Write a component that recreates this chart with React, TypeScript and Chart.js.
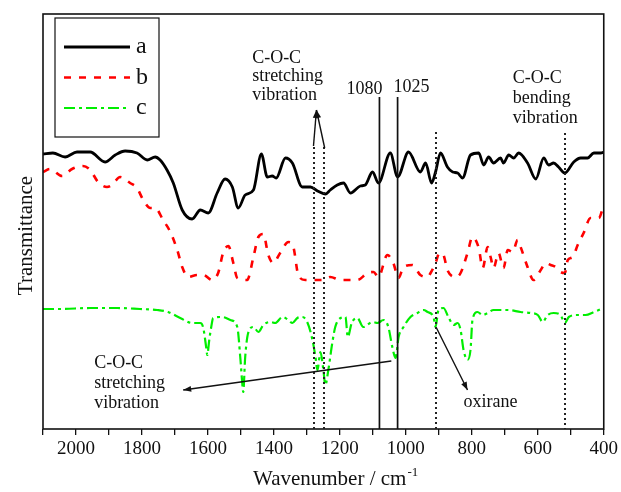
import React, { useEffect, useRef } from "react";
import { Chart, registerables } from "chart.js";
Chart.register(...registerables);

// ---- data (wavenumber in cm-1, transmittance in arbitrary offset units) ----
const waveA = [2100, 2070, 2033, 1997, 1957, 1912, 1881, 1851, 1815, 1784, 1760, 1745, 1724, 1705, 1678, 1648, 1623, 1599, 1572, 1548, 1526, 1508, 1487, 1462, 1438, 1420, 1405, 1393, 1365, 1344, 1314, 1289, 1268, 1244, 1229, 1208, 1189, 1168, 1138, 1123, 1101, 1083, 1047, 1025, 992, 956, 940, 922, 910, 895, 874, 858, 843, 828, 804, 779, 764, 749, 734, 713, 704, 688, 673, 658, 631, 606, 582, 567, 552, 537, 518, 491, 470, 449, 430, 409, 400];
const transA = [275, 276, 272, 277, 277, 267, 274, 278, 276, 269, 272, 269, 259, 246, 219, 210, 219, 216, 236, 250, 242, 221, 234, 239, 275, 252, 253, 251, 271, 266, 242, 242, 238, 235, 239, 244, 246, 236, 243, 244, 257, 246, 276, 252, 277, 257, 266, 246, 257, 276, 262, 257, 256, 251, 274, 276, 264, 272, 266, 271, 266, 274, 271, 276, 266, 250, 271, 264, 266, 262, 256, 267, 271, 271, 276, 276, 277];

const waveB = [2100, 2079, 2042, 2012, 1979, 1957, 1933, 1906, 1891, 1866, 1836, 1815, 1796, 1775, 1760, 1736, 1714, 1693, 1678, 1660, 1633, 1614, 1587, 1569, 1554, 1538, 1523, 1511, 1481, 1462, 1447, 1432, 1417, 1402, 1381, 1356, 1341, 1326, 1305, 1250, 1229, 1198, 1147, 1116, 1098, 1083, 1056, 1038, 1022, 1007, 980, 956, 934, 925, 910, 898, 886, 874, 849, 834, 813, 798, 779, 767, 752, 743, 734, 719, 704, 691, 676, 661, 652, 631, 613, 591, 576, 561, 546, 531, 518, 509, 494, 479, 461, 440, 415, 400];
const transB = [257, 260, 253, 260, 263, 259, 247, 242, 244, 252, 246, 241, 229, 221, 221, 209, 197, 179, 162, 152, 154, 154, 149, 156, 176, 183, 166, 151, 149, 172, 192, 195, 174, 166, 176, 187, 182, 154, 149, 149, 152, 149, 149, 156, 157, 152, 174, 166, 151, 162, 164, 154, 152, 156, 166, 176, 174, 159, 152, 156, 176, 192, 181, 161, 182, 172, 161, 176, 161, 179, 177, 189, 182, 162, 149, 159, 166, 164, 162, 157, 156, 169, 172, 184, 196, 211, 211, 224];

const waveC = [2100, 2048, 1957, 1875, 1806, 1754, 1721, 1684, 1648, 1623, 1614, 1605, 1602, 1596, 1590, 1584, 1557, 1532, 1511, 1502, 1496, 1493, 1487, 1478, 1462, 1447, 1432, 1411, 1396, 1374, 1356, 1344, 1329, 1314, 1299, 1283, 1274, 1268, 1259, 1250, 1244, 1235, 1223, 1214, 1198, 1183, 1176, 1164, 1147, 1129, 1101, 1086, 1068, 1053, 1041, 1031, 1022, 1007, 986, 965, 946, 934, 916, 910, 901, 886, 871, 855, 843, 834, 825, 813, 804, 798, 783, 767, 752, 734, 691, 652, 622, 600, 585, 570, 552, 531, 518, 506, 479, 455, 430, 400];
const transC = [120, 120, 121, 121, 120, 119, 117, 111, 106, 106, 101, 81, 74, 89, 102, 111, 112, 109, 102, 72, 46, 37, 72, 96, 102, 97, 104, 107, 106, 112, 109, 106, 111, 112, 107, 89, 72, 59, 77, 59, 44, 59, 86, 102, 111, 112, 92, 106, 111, 102, 107, 106, 109, 102, 82, 71, 92, 102, 112, 116, 119, 117, 112, 102, 119, 121, 112, 104, 106, 99, 79, 69, 79, 109, 117, 114, 116, 119, 119, 117, 116, 114, 107, 114, 116, 114, 106, 112, 114, 114, 117, 121];

const seriesNames = ["a", "b", "c"];
const majorTicks = [2000, 1800, 1600, 1400, 1200, 1000, 800, 600, 400];

// annotation marks (wavenumber, top in transmittance units)
const dottedMarks = [1278, 1247, 908, 516];
const dottedTops = [282, 282, 297, 296];
const solidMarks = [1080, 1025];
const solidTops = [332, 332];
const peakLabels = ["1080", "1025"];

const SERIF = '"Liberation Serif", "Times New Roman", serif';
const COLORS = ["#000000", "#ff0000", "#00ee00"];
const DASHES = [[], [7, 8], [11, 4, 3, 4]];
const WIDTHS = [2.8, 2.6, 2.2];

export default function App() {
  const ref = useRef<HTMLCanvasElement>(null);
  useEffect(() => {
    const pts = (w: number[], t: number[]) => w.map((x, i) => ({ x, y: t[i] }));

    const annot = {
      id: "annot",
      afterDraw(chart: any) {
        const { ctx, chartArea: a, scales } = chart;
        const X = (v: number) => scales.x.getPixelForValue(v);
        const Y = (v: number) => scales.y.getPixelForValue(v);
        ctx.save();
        // frame
        ctx.strokeStyle = "#111";
        ctx.lineWidth = 1.6;
        ctx.setLineDash([]);
        ctx.strokeRect(a.left, a.top, a.right - a.left, a.bottom - a.top);

        // dotted vertical lines
        ctx.lineWidth = 2;
        ctx.strokeStyle = "#222";
        ctx.setLineDash([2, 3]);
        dottedMarks.forEach((w, i) => {
          ctx.beginPath();
          ctx.moveTo(Math.round(X(w)), Y(dottedTops[i]));
          ctx.lineTo(Math.round(X(w)), a.bottom);
          ctx.stroke();
        });
        // solid vertical lines
        ctx.setLineDash([]);
        ctx.strokeStyle = "#111";
        ctx.lineWidth = 1.7;
        solidMarks.forEach((w, i) => {
          ctx.beginPath();
          ctx.moveTo(X(w), Y(solidTops[i]));
          ctx.lineTo(X(w), a.bottom);
          ctx.stroke();
        });

        const arrow = (x1: number, y1: number, x2: number, y2: number) => {
          ctx.beginPath();
          ctx.moveTo(x1, y1);
          ctx.lineTo(x2, y2);
          ctx.stroke();
          const ang = Math.atan2(y2 - y1, x2 - x1);
          const L = 8, H = 3;
          ctx.beginPath();
          ctx.moveTo(x2, y2);
          ctx.lineTo(x2 - L * Math.cos(ang) + H * Math.sin(ang), y2 - L * Math.sin(ang) - H * Math.cos(ang));
          ctx.lineTo(x2 - L * Math.cos(ang) - H * Math.sin(ang), y2 - L * Math.sin(ang) + H * Math.cos(ang));
          ctx.closePath();
          ctx.fill();
        };
        ctx.fillStyle = "#111";
        ctx.lineWidth = 1.4;
        arrow(X(1280), Y(283), X(1271), Y(319));
        arrow(X(1246), Y(281), X(1271), Y(319));
        arrow(X(1044), Y(68), X(1675), Y(39));
        arrow(X(907), Y(101), X(813), Y(39));

        // text
        ctx.font = `18px ${SERIF}`;
        ctx.textBaseline = "middle";
        ctx.textAlign = "left";
        const block = (w: number, ys: number[], lines: string[]) =>
          lines.forEach((s, i) => ctx.fillText(s, X(w), Y(ys[i])));
        block(1466, [371, 353, 334], ["C-O-C", "stretching", "vibration"]);
        block(676, [351, 331, 311], ["C-O-C", "bending", "vibration"]);
        block(1945, [66, 46, 26], ["C-O-C", "stretching", "vibration"]);
        block(825, [27], ["oxirane"]);
        ctx.textAlign = "right";
        ctx.fillText(peakLabels[0], X(solidMarks[0]) + 3, Y(340));
        ctx.textAlign = "left";
        ctx.fillText(peakLabels[1], X(solidMarks[1]) - 4, Y(342));

        // legend
        const lx = a.left + 12, ly = a.top + 4;
        ctx.lineWidth = 1.2;
        ctx.strokeStyle = "#111";
        ctx.strokeRect(lx, ly, 104, 119);
        ctx.font = `24px ${SERIF}`;
        seriesNames.forEach((n, i) => {
          const yy = ly + 29 + i * 30.5;
          ctx.strokeStyle = COLORS[i];
          ctx.lineWidth = WIDTHS[i];
          ctx.setLineDash(DASHES[i]);
          ctx.beginPath();
          ctx.moveTo(lx + 9, yy);
          ctx.lineTo(lx + 75, yy);
          ctx.stroke();
          ctx.setLineDash([]);
          ctx.fillStyle = "#111";
          ctx.fillText(n, lx + 81, yy);
        });

        // axis titles
        ctx.fillStyle = "#111";
        ctx.font = `21px ${SERIF}`;
        ctx.textBaseline = "alphabetic";
        ctx.textAlign = "left";
        const t1 = "Wavenumber / cm";
        const tx = 253;
        ctx.fillText(t1, tx, 485);
        const w1 = ctx.measureText(t1).width;
        ctx.font = `13px ${SERIF}`;
        ctx.fillText("-1", tx + w1 + 1, 476);

        ctx.font = `21px ${SERIF}`;
        ctx.translate(32, (a.top + a.bottom) / 2 + 14);
        ctx.rotate(-Math.PI / 2);
        ctx.textAlign = "center";
        ctx.fillText("Transmittance", 0, 0);
        ctx.restore();
      },
    };

    const chart = new Chart(ref.current as HTMLCanvasElement, {
      type: "line",
      data: {
        datasets: [pts(waveA, transA), pts(waveB, transB), pts(waveC, transC)].map((d, i) => ({
          label: seriesNames[i],
          data: d,
          borderColor: COLORS[i],
          borderWidth: WIDTHS[i],
          borderDash: DASHES[i],
          pointRadius: 0,
          cubicInterpolationMode: "monotone" as const,
          fill: false,
        })),
      },
      options: {
        animation: false,
        responsive: false,
        layout: { padding: { left: 0, top: 14, right: 17, bottom: 0 } },
        plugins: { legend: { display: false }, tooltip: { enabled: false } },
        scales: {
          x: {
            type: "linear",
            min: 400,
            max: 2100,
            reverse: true,
            afterFit: (s: any) => { s.height = 63; },
            ticks: {
              stepSize: 100,
              autoSkip: false,
              maxRotation: 0,
              callback: (v: any) => (majorTicks.includes(Number(v)) ? String(v) : ""),
              font: { family: SERIF, size: 19 },
              color: "#111",
            },
            grid: { display: true, drawOnChartArea: false, drawTicks: true, tickLength: 6, color: "#111", lineWidth: 1.3 },
            border: { display: false },
          },
          y: {
            type: "linear",
            min: 0,
            max: 415,
            afterFit: (s: any) => { s.width = 43; },
            ticks: { display: false },
            grid: { display: false },
            border: { display: false },
          },
        },
      },
      plugins: [annot],
    } as any);
    return () => chart.destroy();
  }, []);
  return (
    <div style={{ position: "fixed", left: 0, top: 0, width: 621, height: 492, background: "#fff" }}>
      <canvas ref={ref} width={621} height={492} style={{ display: "block" }} />
    </div>
  );
}
